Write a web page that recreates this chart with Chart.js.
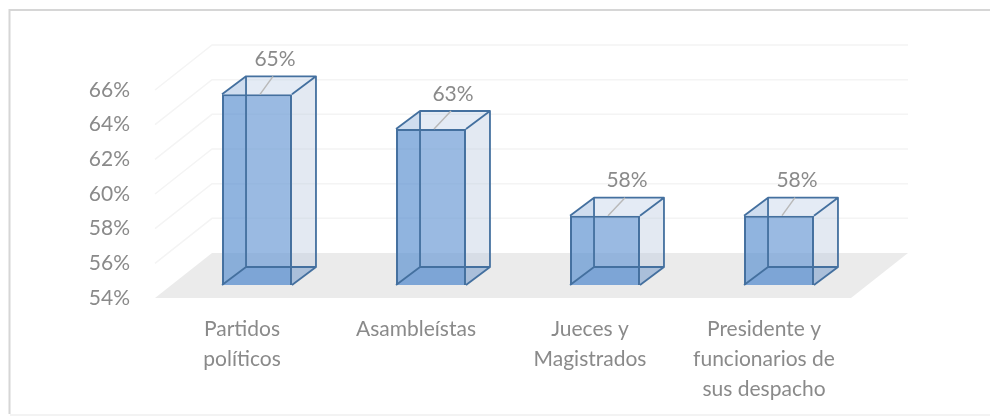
<!DOCTYPE html>
<html>
<head>
<meta charset="utf-8">
<style>
  html, body { margin: 0; padding: 0; background: #fff; }
  #wrap { width: 990px; height: 417px; position: relative; }
</style>
</head>
<body>
<div id="wrap"><canvas id="dash"></canvas></div>
<script src="https://cdn.jsdelivr.net/npm/chart.js@4"></script>
<script>
const categorias = [
  ["Partidos", "políticos"],
  "Asambleístas",
  ["Jueces y", "Magistrados"],
  ["Presidente y", "funcionarios de", "sus despacho"],
];
const valores = [65, 63, 58, 58];
const rotulosValor = ["65%", "63%", "58%", "58%"];
const eixoMin = 54;
const eixoMax = 66;
const eixoPasso = 2;

// offsets of the fake 3D: front of the box, back of the box, back of the floor
const frente = { x: 15, y: -13 };
const fundo = { x: 39, y: -31 };
const parede = { x: 57, y: -45 };
const desvioRotulo = [18, 22, 22, 18];
const corTexto = "#8a8a8a";
const corBorda = "#44709f";

function poligono(ctx, pontos, fill) {
  ctx.beginPath();
  pontos.forEach((p, i) => (i ? ctx.lineTo(p[0], p[1]) : ctx.moveTo(p[0], p[1])));
  ctx.closePath();
  ctx.fillStyle = fill;
  ctx.fill();
}

// cantos da caixa de uma barra
function cantos(barra, base) {
  const esq = barra.x - barra.width / 2;
  const dir = barra.x + barra.width / 2;
  return {
    fe: esq + frente.x, fd: dir + frente.x,
    fTop: barra.y + frente.y, fBase: base + frente.y,
    te: esq + fundo.x, td: dir + fundo.x,
    tTop: barra.y + fundo.y, tBase: base + fundo.y,
  };
}

const caixa3d = {
  id: "caixa3d",
  beforeDraw(chart) {
    const ctx = chart.ctx;
    const { left, right, bottom } = chart.chartArea;
    const y = chart.scales.y;
    ctx.save();
    // moldura
    ctx.strokeStyle = "#d6d6d6";
    ctx.lineWidth = 2;
    ctx.beginPath();
    ctx.moveTo(9.5, 414);
    ctx.lineTo(9.5, 10);
    ctx.lineTo(990, 10);
    ctx.stroke();
    ctx.strokeStyle = "#f3f3f3";
    ctx.beginPath();
    ctx.moveTo(10, 415);
    ctx.lineTo(990, 415);
    ctx.stroke();

    // chao
    poligono(ctx, [
      [left, bottom], [right, bottom],
      [right + parede.x, bottom + parede.y], [left + parede.x, bottom + parede.y],
    ], "#ebebeb");

    // grades da parede, uma por tick, menos a base
    ctx.strokeStyle = "#f4f4f4";
    ctx.lineWidth = 1.5;
    y.ticks.forEach((t) => {
      if (t.value === eixoMin) return;
      const py = y.getPixelForValue(t.value);
      ctx.beginPath();
      ctx.moveTo(left, py);
      ctx.lineTo(left + parede.x, py + parede.y);
      ctx.lineTo(right + parede.x, py + parede.y);
      ctx.stroke();
    });
    ctx.restore();
  },
  beforeDatasetDraw(chart, args) {
    const ctx = chart.ctx;
    const base = chart.scales.y.bottom;
    ctx.save();
    args.meta.data.forEach((barra) => {
      const c = cantos(barra, base);
      // fundo, chao da caixa, lado esquerdo
      poligono(ctx, [[c.te, c.tTop], [c.td, c.tTop], [c.td, c.tBase], [c.te, c.tBase]], "rgba(190,205,225,0.28)");
      poligono(ctx, [[c.fe, c.fBase], [c.fd, c.fBase], [c.td, c.tBase], [c.te, c.tBase]], "rgba(80,130,195,0.45)");
      poligono(ctx, [[c.fe, c.fTop], [c.te, c.tTop], [c.te, c.tBase], [c.fe, c.fBase]], "rgba(80,130,195,0.25)");
    });
    ctx.restore();
    // a barra real do Chart.js fica no plano da frente da caixa
    ctx.save();
    ctx.translate(frente.x, frente.y);
  },
  afterDatasetDraw(chart, args) {
    const ctx = chart.ctx;
    ctx.restore();
    const base = chart.scales.y.bottom;
    ctx.save();
    args.meta.data.forEach((barra, i) => {
      const c = cantos(barra, base);
      // tampa e lado direito
      poligono(ctx, [[c.fe, c.fTop], [c.fd, c.fTop], [c.td, c.tTop], [c.te, c.tTop]], "rgba(190,210,235,0.2)");
      poligono(ctx, [[c.fd, c.fTop], [c.td, c.tTop], [c.td, c.tBase], [c.fd, c.fBase]], "rgba(190,205,225,0.22)");

      // arestas
      ctx.strokeStyle = corBorda;
      ctx.lineWidth = 1.8;
      ctx.lineJoin = "round";
      ctx.beginPath();
      ctx.moveTo(c.fe, c.fTop); ctx.lineTo(c.te, c.tTop); ctx.lineTo(c.td, c.tTop); ctx.lineTo(c.fd, c.fTop);
      ctx.moveTo(c.td, c.tTop); ctx.lineTo(c.td, c.tBase); ctx.lineTo(c.fd, c.fBase);
      ctx.moveTo(c.te, c.tTop); ctx.lineTo(c.te, c.tBase); ctx.lineTo(c.fe, c.fBase);
      ctx.moveTo(c.te, c.tBase); ctx.lineTo(c.td, c.tBase);
      ctx.stroke();

      // guia do rotulo sobre a tampa
      const lx = barra.x + frente.x + desvioRotulo[i];
      ctx.strokeStyle = "#b9b9b9";
      ctx.lineWidth = 1.5;
      ctx.beginPath();
      ctx.moveTo(barra.x + frente.x + 3, c.fTop);
      ctx.lineTo(lx - 2, c.tTop);
      ctx.stroke();

      ctx.fillStyle = corTexto;
      ctx.font = "21px Lato";
      ctx.textAlign = "center";
      ctx.textBaseline = "middle";
      ctx.fillText(rotulosValor[i], lx, c.tTop - 17);
    });
    ctx.restore();
  },
};

const dash = document.getElementById("dash");

new Chart(dash, {
  type: "bar",
  data: {
    labels: categorias,
    datasets: [
      {
        label: "Porcentaje",
        data: valores,
        backgroundColor: "rgba(98,150,212,0.6)",
        borderColor: corBorda,
        borderWidth: 2,
        categoryPercentage: 1,
        barPercentage: 0.402,
      },
    ],
  },
  options: {
    responsive: true,
    maintainAspectRatio: false,
    animation: false,
    layout: {
      padding: { top: 90, right: 139, left: 0, bottom: 0 },
    },
    scales: {
      x: {
        border: { display: false },
        grid: { display: false },
        ticks: {
          color: corTexto,
          font: { family: "Lato", size: 21, lineHeight: 1.43 },
          maxRotation: 0,
          autoSkip: false,
          padding: 8,
        },
        afterFit(scale) {
          scale.height = 119;
        },
      },
      y: {
        min: eixoMin,
        max: eixoMax,
        border: { display: false },
        grid: { display: false },
        ticks: {
          stepSize: eixoPasso,
          color: corTexto,
          padding: 17,
          font: { family: "Lato", size: 21 },
          callback: (v) => v + "%",
        },
        afterFit(scale) {
          scale.width = 155;
        },
      },
    },
    plugins: {
      legend: { display: false },
      tooltip: { enabled: false },
    },
  },
  plugins: [caixa3d],
});
</script>
</body>
</html>
